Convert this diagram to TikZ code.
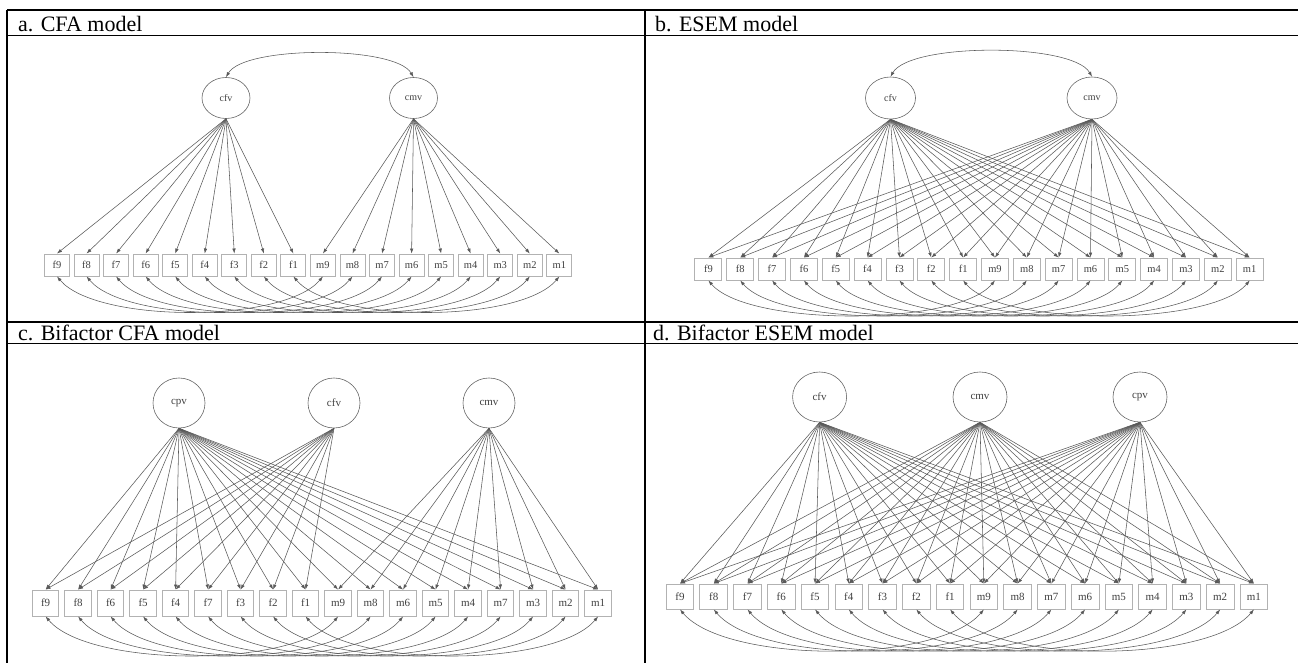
\documentclass[tikz,border=0pt]{standalone}
\usepackage{fontspec}
\setmainfont{Liberation Serif}
\usetikzlibrary{shapes.geometric,arrows.meta}

\tikzset{
  lat/.style={draw=black!60, ellipse, line width=0.6pt, inner sep=0pt, text=black!75},
  obs/.style={draw=black!30, rectangle, line width=0.9pt, inner sep=0pt, text=black!75},
  load/.style={draw=black!65, line width=0.55pt, ->, >={Latex[length=5pt,width=3.5pt]}},
  cov/.style={draw=black!65, line width=0.55pt, <->, >={Latex[length=5pt,width=3.5pt]}},
  tabline/.style={line width=1.2pt},
  head/.style={anchor=base west, inner sep=0pt, font=\fontsize{22}{22}\selectfont},
}

\begin{document}
\begin{tikzpicture}[x=1pt,y=-1pt]
\useasboundingbox (0,0) rectangle (1298,663);

% table
\draw[tabline] (7,10) -- (1298,10);
\draw[tabline] (7,35.5) -- (1298,35.5);
\draw[tabline] (7,322) -- (1298,322);
\draw[tabline] (7,343.5) -- (1298,343.5);
\draw[tabline] (7,10) -- (7,663);
\draw[tabline] (645,10) -- (645,663);
\node[head] (ha) at (18,31.5) {a. CFA model};
\node[head] (hb) at (655,31.5) {b. ESEM model};
\node[head] (hc) at (18,340) {c. Bifactor CFA model};
\node[head] (hd) at (653,340) {d. Bifactor ESEM model};

% a. CFA model
\node[lat, minimum width=48pt, minimum height=41pt, font=\fontsize{10}{10}\selectfont] (acfv) at (226,98) {cfv};
\node[lat, minimum width=48pt, minimum height=41pt, font=\fontsize{10}{10}\selectfont] (acmv) at (413.5,98) {cmv};
\foreach \lab [count=\i] in {f9,f8,f7,f6,f5,f4,f3,f2,f1,m9,m8,m7,m6,m5,m4,m3,m2,m1}
  \node[obs, minimum width=25pt, minimum height=22pt, font=\fontsize{10.5}{10.5}\selectfont] (a\i) at ({57+29.55*(\i-1)},265) {\lab};
\foreach \i in {1,...,9} \path[load] (acfv.south) -- (a\i.north);
\foreach \i in {10,...,18} \path[load] (acmv.south) -- (a\i.north);
\foreach \i [evaluate=\i as \j using int(\i+9)] in {1,...,9}
  \path[cov] (a\i.south) to[out=-50,in=-130,looseness=0.59] (a\j.south);
\path[cov] (acfv.north) to[out=60,in=120,looseness=0.5] (acmv.north);

% b. ESEM model
\node[lat, minimum width=50pt, minimum height=42pt, font=\fontsize{10}{10}\selectfont] (bcfv) at (890.5,98) {cfv};
\node[lat, minimum width=50pt, minimum height=42pt, font=\fontsize{10}{10}\selectfont] (bcmv) at (1092,98) {cmv};
\foreach \lab [count=\i] in {f9,f8,f7,f6,f5,f4,f3,f2,f1,m9,m8,m7,m6,m5,m4,m3,m2,m1}
  \node[obs, minimum width=27pt, minimum height=22pt, font=\fontsize{10.5}{10.5}\selectfont] (b\i) at ({708.4+31.84*(\i-1)},269) {\lab};
\foreach \i in {1,...,18} {
  \path[load] (bcfv.south) -- (b\i.north);
  \path[load] (bcmv.south) -- (b\i.north);
}
\foreach \i [evaluate=\i as \j using int(\i+9)] in {1,...,9}
  \path[cov] (b\i.south) to[out=-50,in=-130,looseness=0.54] (b\j.south);
\path[cov] (bcfv.north) to[out=60,in=120,looseness=0.5] (bcmv.north);

% c. Bifactor CFA model
\node[lat, minimum width=52pt, minimum height=50pt, font=\fontsize{11}{11}\selectfont] (ccpv) at (179,403) {cpv};
\node[lat, minimum width=52pt, minimum height=50pt, font=\fontsize{11}{11}\selectfont] (ccfv) at (334,403) {cfv};
\node[lat, minimum width=52pt, minimum height=50pt, font=\fontsize{11}{11}\selectfont] (ccmv) at (489,403) {cmv};
\foreach \lab [count=\i] in {f9,f8,f6,f5,f4,f7,f3,f2,f1,m9,m8,m6,m5,m4,m7,m3,m2,m1}
  \node[obs, minimum width=26.5pt, minimum height=26pt, font=\fontsize{11}{11}\selectfont] (c\i) at ({45.6+32.5*(\i-1)},603) {\lab};
\foreach \i in {1,...,18} \path[load] (ccpv.south) -- (c\i.north);
\foreach \i in {1,...,9} \path[load] (ccfv.south) -- (c\i.north);
\foreach \i in {10,...,18} \path[load] (ccmv.south) -- (c\i.north);
\foreach \i [evaluate=\i as \j using int(\i+9)] in {1,...,9}
  \path[cov] (c\i.south) to[out=-50,in=-130,looseness=0.59] (c\j.south);

% d. Bifactor ESEM model
\node[lat, minimum width=54pt, minimum height=50pt, font=\fontsize{11}{11}\selectfont] (dcfv) at (819.6,397) {cfv};
\node[lat, minimum width=54pt, minimum height=50pt, font=\fontsize{11}{11}\selectfont] (dcmv) at (980,397) {cmv};
\node[lat, minimum width=54pt, minimum height=50pt, font=\fontsize{11}{11}\selectfont] (dcpv) at (1140,397) {cpv};
\foreach \lab [count=\i] in {f9,f8,f7,f6,f5,f4,f3,f2,f1,m9,m8,m7,m6,m5,m4,m3,m2,m1}
  \node[obs, minimum width=27.7pt, minimum height=25pt, font=\fontsize{11}{11}\selectfont] (d\i) at ({680+33.76*(\i-1)},596.5) {\lab};
\foreach \i in {1,...,18} {
  \path[load] (dcfv.south) -- (d\i.north);
  \path[load] (dcmv.south) -- (d\i.north);
  \path[load] (dcpv.south) -- (d\i.north);
}
\foreach \i [evaluate=\i as \j using int(\i+9)] in {1,...,9}
  \path[cov] (d\i.south) to[out=-50,in=-130,looseness=0.6] (d\j.south);
\end{tikzpicture}
\end{document}
